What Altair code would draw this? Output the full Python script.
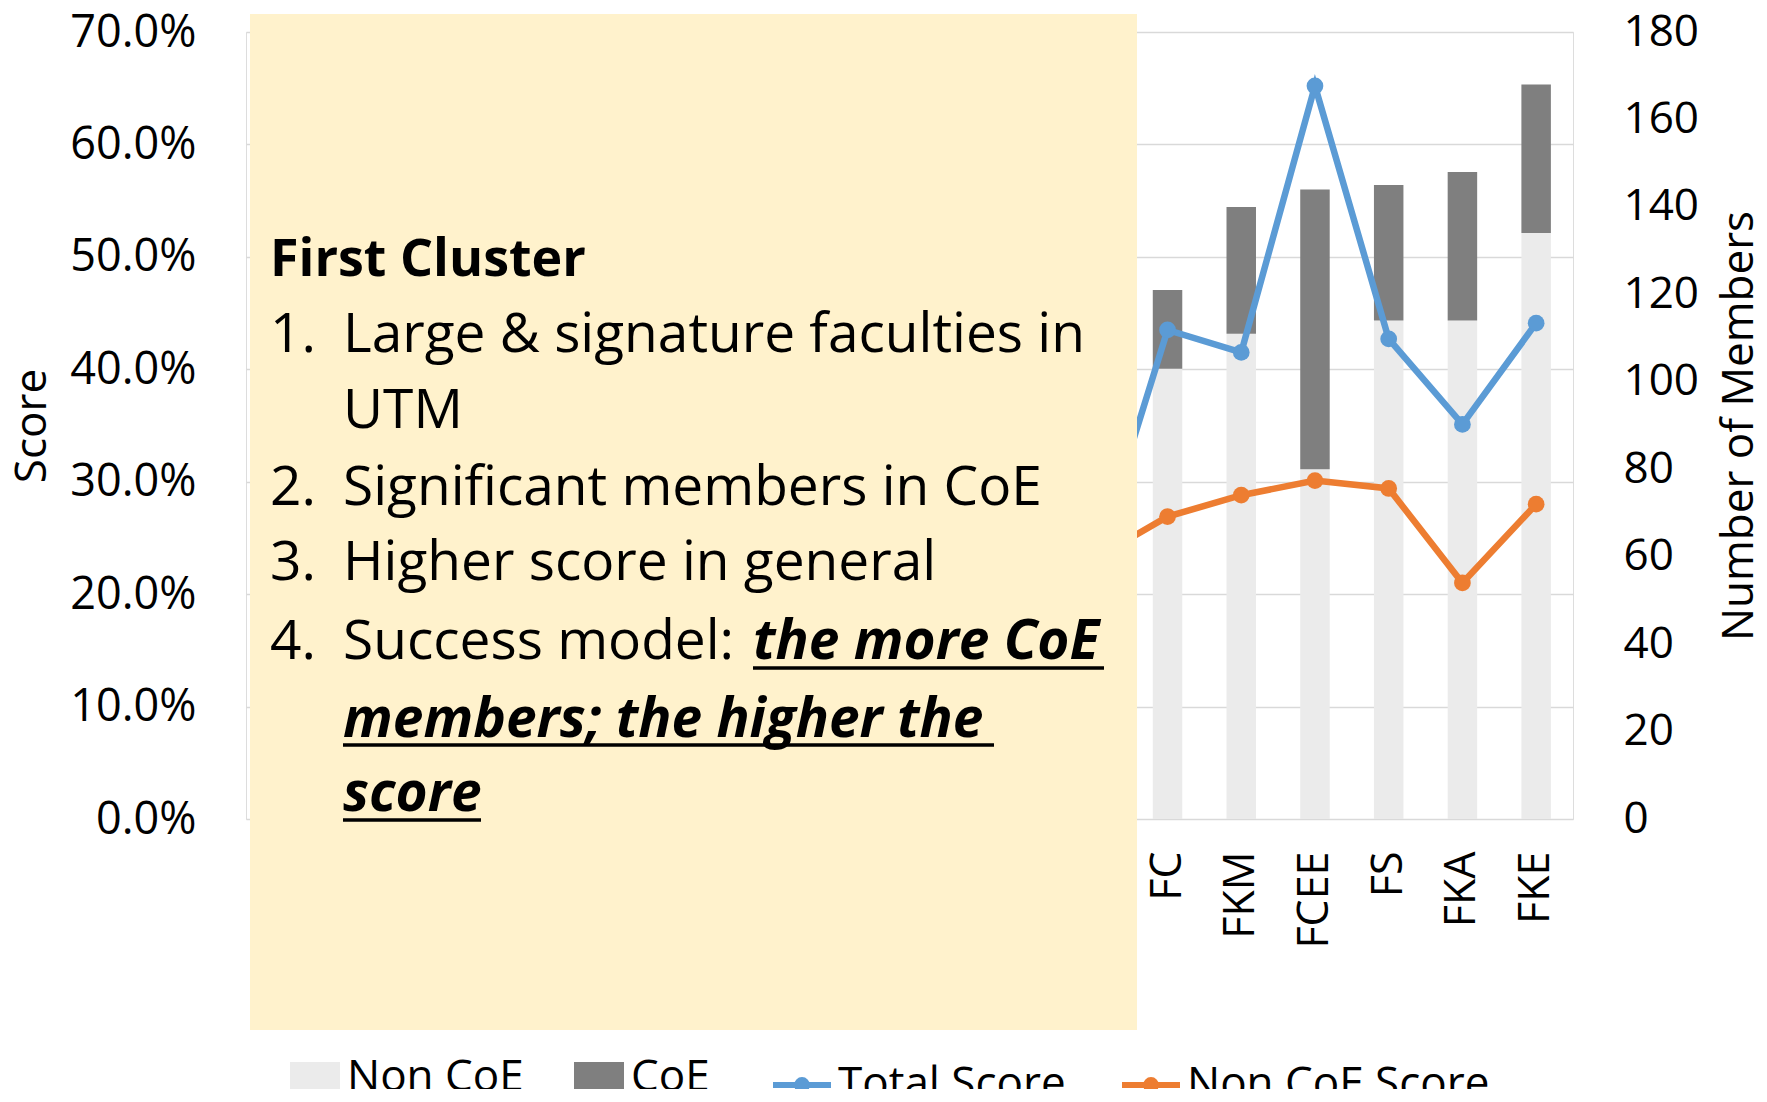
import altair as alt
import pandas as pd

# ---------------- data ----------------
categories = ["AIS", "RAZAK", "FP", "FM", "MJIIT", "FSSK", "FAB", "FBME", "FGHT",
              "FPPSM", "FTIR", "FPREE", "FC", "FKM", "FCEE", "FS", "FKA", "FKE"]
non_coe_members = [15, 20, 40, 45, 30, 50, 35, 45, 55, 60, 70, 80, 103, 111, 80, 114, 114, 134]
coe_members = [0, 0, 2, 3, 5, 4, 6, 10, 8, 12, 10, 15, 18, 29, 64, 31, 34, 34]
total_score = [0.08, 0.10, 0.12, 0.14, 0.15, 0.17, 0.18, 0.19, 0.21, 0.20, 0.22, 0.224,
               0.435, 0.415, 0.652, 0.427, 0.351, 0.441]
non_coe_score = [0.08, 0.10, 0.12, 0.13, 0.14, 0.16, 0.17, 0.18, 0.20, 0.19, 0.21, 0.231,
                 0.269, 0.288, 0.301, 0.294, 0.210, 0.280]

bar_names = ["Non CoE", "CoE"]
bar_colors = ["#EBEBEB", "#7F7F7F"]
line_names = ["Total Score", "Non CoE Score"]
line_colors = ["#5B9BD5", "#ED7D31"]
score_ticks = [round(i * 0.1, 1) for i in range(8)]
member_ticks = list(range(0, 181, 20))

FONT = "Open Sans"

bars_df = pd.DataFrame(
    [{"cat": c, "type": "Non CoE", "members": n, "ord": 0} for c, n in zip(categories, non_coe_members)]
    + [{"cat": c, "type": "CoE", "members": m, "ord": 1} for c, m in zip(categories, coe_members)]
)
lines_df = pd.DataFrame(
    [{"cat": c, "series": "Total Score", "score": s} for c, s in zip(categories, total_score)]
    + [{"cat": c, "series": "Non CoE Score", "score": s} for c, s in zip(categories, non_coe_score)]
)

rect_path = "M-1,-0.64H1V0.64H-1Z"
line_path = ("M-1,0H1"
             "M-0.05,0a0.05,0.05 0 1,0 0.1,0a0.05,0.05 0 1,0 -0.1,0"
             "M-0.12,0a0.12,0.12 0 1,0 0.24,0a0.12,0.12 0 1,0 -0.24,0"
             "M-0.17,0a0.17,0.17 0 1,0 0.34,0a0.17,0.17 0 1,0 -0.34,0")

bar_legend = alt.Legend(
    title=None, orient="none", legendX=44, legendY=1021, direction="horizontal",
    columnPadding=50, labelOffset=7, labelFont=FONT, labelFontSize=44, labelColor="black",
    labelLimit=800, symbolType=rect_path, symbolSize=2500, symbolStrokeWidth=0,
)
line_legend = alt.Legend(
    title=None, orient="none", legendX=524, legendY=1021, direction="horizontal",
    columnPadding=44, labelOffset=4, labelFont=FONT, labelFontSize=44, labelColor="black",
    labelLimit=800, symbolType=line_path, symbolSize=3364, symbolStrokeWidth=6,
    symbolFillColor="transparent",
)

x_enc = alt.X(
    "cat:N",
    sort=categories,
    title=None,
    scale=alt.Scale(paddingInner=0.6, paddingOuter=0.3),
    axis=alt.Axis(labelAngle=-90, labelFont=FONT, labelFontSize=43, labelColor="black",
                  labelPadding=32, domain=False, ticks=False, grid=False),
)

bars = alt.Chart(bars_df).mark_bar().encode(
    x=x_enc,
    y=alt.Y("members:Q", stack="zero", scale=alt.Scale(domain=[0, 180], nice=False),
            axis=alt.Axis(orient="right", values=member_ticks, grid=False, domain=False, ticks=False,
                          labelFont=FONT, labelFontSize=44, labelColor="black", labelPadding=50,
                          title="Number of Members", titleFont=FONT, titleFontSize=44,
                          titleFontWeight="normal", titleColor="black", titleAngle=270,
                          titleBaseline="middle", titleAlign="center", titleX=166, titleY=393.5)),
    color=alt.Color("type:N", scale=alt.Scale(domain=bar_names, range=bar_colors), legend=bar_legend),
    order=alt.Order("ord:Q"),
)

score_y = alt.Y("score:Q", scale=alt.Scale(domain=[0, 0.7], nice=False),
                axis=alt.Axis(orient="left", values=score_ticks, format=".1%", grid=True,
                              gridColor="#D9D9D9", gridWidth=1.6, domain=False, ticks=False,
                              labelFont=FONT, labelFontSize=45, labelColor="black", labelPadding=50,
                              title="Score", titleFont=FONT, titleFontSize=44, titleFontWeight="normal",
                              titleColor="black", titleAngle=270, titleBaseline="middle",
                              titleAlign="center", titleX=-214, titleY=393.5))

lines = alt.Chart(lines_df).mark_line(strokeWidth=6.5).encode(
    x=x_enc, y=score_y,
    stroke=alt.Stroke("series:N", scale=alt.Scale(domain=line_names, range=line_colors),
                      legend=line_legend),
    strokeWidth=alt.value(6.5),
)
points = alt.Chart(lines_df).mark_circle(size=280, opacity=1).encode(
    x=x_enc, y=score_y,
    fill=alt.Fill("series:N", scale=alt.Scale(domain=line_names, range=line_colors), legend=None),
    size=alt.value(280),
)
score_layer = alt.layer(lines, points)

one = pd.DataFrame({"a": [0]})

box = alt.Chart(one).mark_rect(color="#FFF2CC", opacity=1).encode(
    x=alt.value(4), x2=alt.value(891), y=alt.value(-18), y2=alt.value(998)
)


def txt(s, x, y, weight="normal", style="normal", size=55):
    return alt.Chart(one).mark_text(
        text=s, font=FONT, fontSize=size, fontWeight=weight, fontStyle=style,
        align="left", baseline="alphabetic", color="black"
    ).encode(x=alt.value(x), y=alt.value(y))


def uline(x1, x2, y):
    return alt.Chart(one).mark_rule(color="black", strokeWidth=3.5).encode(
        x=alt.value(x1), x2=alt.value(x2), y=alt.value(y)
    )


annotations = [
    txt("First Cluster", 24, 244, weight="bold", size=52),
    txt("1.", 24, 320), txt("Large & signature faculties in", 97, 320),
    txt("UTM", 97, 396),
    txt("2.", 24, 473), txt("Significant members in CoE", 97, 473),
    txt("3.", 24, 548), txt("Higher score in general", 97, 548),
    txt("4.", 24, 627), txt("Success model:", 97, 627),
    txt("the more CoE", 507, 627, weight="bold", style="italic"),
    txt("members; the higher the", 97, 705, weight="bold", style="italic"),
    txt("score", 97, 779, weight="bold", style="italic"),
    uline(507, 858, 636),
    uline(97, 748, 713),
    uline(97, 235, 788),
]

chart = alt.layer(bars, score_layer, box, *annotations).resolve_scale(
    y="independent"
).properties(
    width=1327,
    height=787,
    autosize=alt.AutoSizeParams(type="none"),
    padding={"left": 238, "top": 24, "right": 186, "bottom": 270},
).configure_view(stroke=None).configure(font=FONT)

chart.save("out.html", embed_options={"renderer": "svg", "actions": False})
